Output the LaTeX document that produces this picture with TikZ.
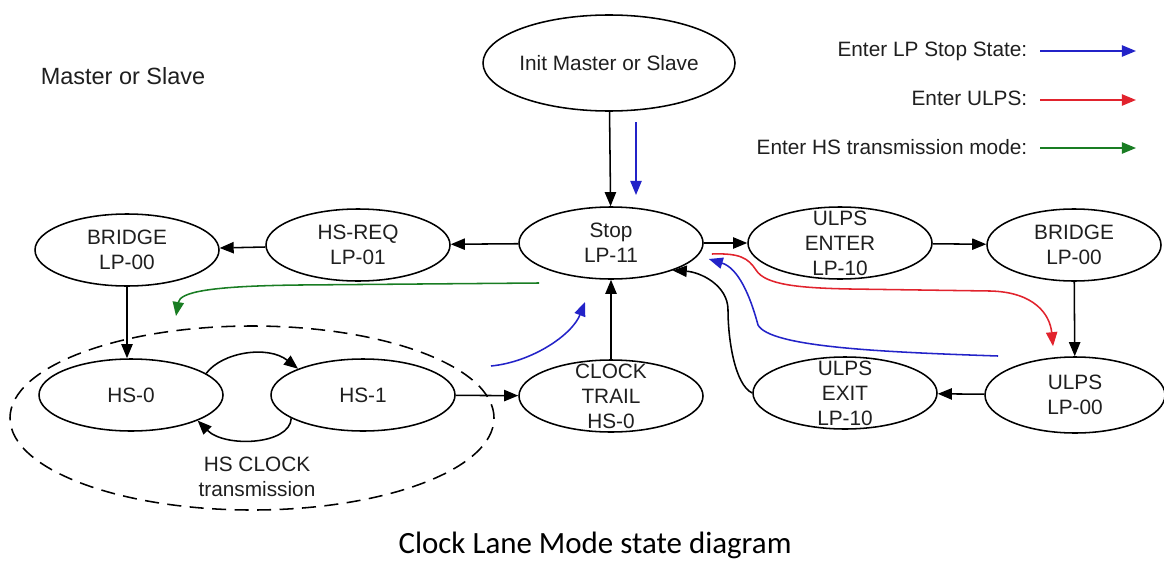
\documentclass[tikz,border=0pt]{standalone}
\usepackage{fontspec}
\setmainfont{Liberation Sans}
\newfontfamily\capfont{Carlito}
\usepackage{tikz}
\usetikzlibrary{shapes.geometric,arrows.meta}
\definecolor{lpblue}{RGB}{35,35,200}
\definecolor{ulpsred}{RGB}{225,35,45}
\definecolor{hsgreen}{RGB}{25,125,35}

\begin{document}
\begin{tikzpicture}[x=0.25mm, y=-0.25mm, line width=1.1pt,
    >={Triangle[length=10pt,width=8pt]},
    st/.style={draw, ellipse, inner sep=0pt, minimum width=46mm, minimum height=18mm},
    txt/.style={align=center, inner sep=0pt, text=black!88, font=\fontsize{14.8}{17.7}\selectfont},
    every label/.style={txt}]
    \useasboundingbox (0,0) rectangle (1164,561);

    \node[st, minimum width=63mm, minimum height=24mm, label=center:Init Master or Slave] (init) at (609,63) {};
    \node[st, label={center:Stop\\LP-11}] (stop) at (611,243) {};
    \node[st, label={center:ULPS\\ENTER\\LP-10}] (ue) at (840,243) {};
    \node[st, minimum width=43.5mm, label={center:BRIDGE\\LP-00}] (bridgeR) at (1074,245) {};
    \node[st, label={center:HS-REQ\\LP-01}] (hsreq) at (358,245) {};
    \node[st, label={center:BRIDGE\\LP-00}] (bridgeL) at (127,250) {};
    \node[st, label=center:HS-0] (hs0) at (131,395) {};
    \node[st, label=center:HS-1] (hs1) at (363,395) {};
    \node[st, label={center:CLOCK\\TRAIL\\HS-0}] (ct) at (611,396) {};
    \node[st, label={center:ULPS\\EXIT\\LP-10}] (ux) at (845,393) {};
    \node[st, minimum width=45mm, minimum height=19mm, label={center:ULPS\\LP-00}] (ul) at (1075,395) {};
    \node[draw, ellipse, dashed, dash pattern=on 10pt off 6pt, inner sep=0pt,
          minimum width=121mm, minimum height=46mm] (hsgrp) at (252,418) {};
    \node[txt] (hsclk) at (257,477) {HS CLOCK\\transmission};

    \node[anchor=base west, inner sep=0pt, text=black!88, font=\fontsize{16.7}{20}\selectfont] (role) at (40,84) {Master or Slave};

    \node[txt, anchor=base east] (lg1) at (1028,57) {Enter LP Stop State:};
    \node[txt, anchor=base east] (lg2) at (1028,106) {Enter ULPS:};
    \node[txt, anchor=base east] (lg3) at (1028,154) {Enter HS transmission mode:};
    \draw[->, lpblue] (lg1.base east) ++(12,-6) -- ++(96,0);
    \draw[->, ulpsred] (lg2.base east) ++(12,-6) -- ++(96,0);
    \draw[->, hsgreen] (lg3.base east) ++(12,-6) -- ++(96,0);

    \draw[->] (init) -- (stop);
    \draw[->] (stop) -- (hsreq);
    \draw[->] (hsreq) -- (bridgeL);
    \draw[->] (bridgeL.south) -- (bridgeL.south |- hs0.north);
    \draw[->] (hs0.16) .. controls (222,352) and (268,345) .. (hs1.158);
    \draw[->] (hs1.198) .. controls (290,445) and (225,448) .. (hs0.339);
    \draw[->] (hs1) -- (ct);
    \draw[->] (ct) -- (stop);
    \draw[->] (stop) -- (ue);
    \draw[->] (ue) -- (bridgeR);
    \draw[->] (bridgeR) -- (ul);
    \draw[->] (ul) -- (ux);
    \draw[->] (ux.west) .. controls (735,385) and (728,340) .. (728,310)
        .. controls (728,285) and (700,272) .. (stop.336);

    \coordinate (b1s) at (636,122);
    \coordinate (b1e) at (636,195);
    \coordinate (b2s) at (491,366);
    \coordinate (b2e) at (585,302);
    \coordinate (b3s) at (998,356);
    \coordinate (gs) at (539,283);
    \coordinate (ge) at (176,316);
    \draw[->, lpblue] (b1s) -- (b1e);
    \draw[->, lpblue] (b2s) .. controls (532,362) and (572,335) .. (b2e);
    \draw[->, lpblue] (b3s) .. controls (880,352) and (770,347) .. (758,325)
        .. controls (750,295) and (738,268) .. ([shift={(5,16)}]stop.east);
    \draw[->, ulpsred] ([shift={(8,11)}]stop.east) .. controls (740,253) and (748,258) .. (756,270)
        .. controls (765,285) and (800,288) .. (850,289) -- (990,291)
        .. controls (1035,292) and (1050,315) .. ([shift={(-22,-10)}]ul.north);
    \draw[->, hsgreen] (gs) -- (300,285) .. controls (210,286) and (180,292) .. (ge);

    \node[anchor=base, inner sep=0pt, font=\capfont\fontsize{22}{26}\selectfont] (cap) at (595,553) {Clock Lane Mode state diagram};
\end{tikzpicture}
\end{document}
